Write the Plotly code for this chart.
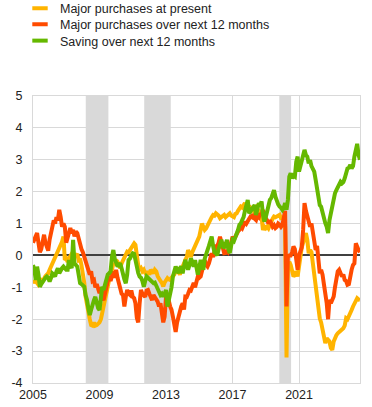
import pandas as pd
import plotly.graph_objects as go

# Monthly values, one row per year (2005 ... 2024)
major_purchases_present = [
    [-0.77, -0.86, -0.8, -0.9, -0.92, -0.85, -0.77, -0.8, -0.7, -0.65, -0.6, -0.56],
    [-0.45, -0.35, -0.3, -0.19, -0.1, 0.0, 0.12, 0.2, 0.3, 0.43, 0.59, -0.14],
    [-0.1, -0.2, -0.1, -0.04, 0.05, 0.0, -0.05, 0.0, 0.05, -0.14, -0.1, -0.3],
    [-0.56, -0.86, -1.29, -1.6, -1.81, -2.0, -2.18, -2.2, -2.1, -2.2, -2.18, -2.15],
    [-2.1, -2.0, -1.8, -1.6, -1.3, -1.08, -0.9, -0.66, -0.55, -0.45, -0.25, -0.3],
    [-0.14, -0.2, -0.3, -0.4, -0.25, -0.14, -0.1, 0.0, 0.12, 0.1, 0.17, 0.25],
    [0.3, 0.38, 0.33, -0.14, -0.3, -0.45, -0.4, -0.5, -0.45, -0.55, -0.6, -0.5],
    [-0.6, -0.45, -0.5, -0.56, -0.45, -0.5, -0.65, -0.77, -0.8, -0.86, -0.97, -0.85],
    [-0.75, -0.71, -0.75, -0.77, -0.7, -0.66, -0.6, -0.5, -0.4, -0.5, -0.6, -0.45],
    [-0.3, -0.25, -0.14, -0.05, 0.17, 0.05, -0.05, 0.1, 0.2, 0.28, 0.4, 0.5],
    [0.59, 0.8, 1.0, 0.9, 0.8, 0.85, 0.95, 1.0, 1.1, 1.2, 1.27, 1.25],
    [1.32, 1.3, 1.25, 1.17, 1.2, 1.25, 1.27, 1.2, 1.25, 1.3, 1.32, 1.25],
    [1.22, 1.2, 1.3, 1.32, 1.4, 1.45, 1.53, 1.5, 1.6, 1.64, 1.5, 1.43],
    [1.45, 1.5, 1.45, 1.4, 1.5, 1.53, 1.45, 1.4, 1.37, 1.2, 0.8, 0.9],
    [0.85, 0.9, 0.85, 0.95, 1.1, 1.15, 1.22, 1.2, 1.22, 1.25, 1.27, 1.17],
    [1.2, 1.2, 0.9, -3.2, -0.4, -0.2, -0.3, -0.5, -0.66, -0.6, -0.5, -0.66],
    [-0.3, 0.0, 0.25, 0.4, 0.59, 0.7, 0.49, 0.07, 0.17, 0.1, -0.25, -0.6],
    [-0.98, -1.3, -1.5, -1.97, -2.1, -2.34, -2.55, -2.75, -2.6, -2.65, -2.7, -2.9],
    [-2.96, -2.7, -2.55, -2.5, -2.44, -2.4, -2.34, -2.3, -2.28, -2.2, -1.97, -2.0],
    [-1.87, -1.8, -1.71, -1.6, -1.5, -1.45, -1.34, -1.38, -1.4],
]

major_purchases_next12 = [
    [0.4, 0.5, 0.6, 0.7, 0.4, 0.1, 0.2, 0.5, 0.65, 0.4, 0.2, 0.15],
    [0.5, 0.75, 0.8, 1.1, 1.0, 1.2, 1.1, 1.43, 1.2, 0.9, 1.0, 0.9],
    [0.4, 0.6, 0.75, 0.86, 0.7, 0.8, 0.6, 0.75, 0.7, 0.5, 0.3, 0.2],
    [0.1, -0.04, -0.1, -0.3, -0.45, -0.6, -0.5, -0.8, -0.77, -1.0, -0.9, -1.1],
    [-1.18, -1.0, -1.33, -1.4, -1.1, -1.0, -0.8, -0.66, -0.8, -0.6, -0.5, -0.7],
    [-0.45, -0.7, -0.9, -1.08, -1.2, -1.24, -1.6, -1.3, -1.08, -1.2, -1.24, -1.1],
    [-1.3, -1.34, -1.5, -1.96, -2.1, -1.5, -1.08, -1.2, -1.24, -1.3, -1.1, -1.08],
    [-1.2, -1.29, -1.4, -1.24, -1.3, -1.34, -1.45, -1.6, -1.5, -1.8, -2.1, -1.92],
    [-1.29, -1.5, -1.4, -1.6, -1.7, -1.92, -2.2, -2.4, -2.1, -1.9, -1.7, -1.6],
    [-1.5, -1.7, -1.29, -1.3, -1.2, -1.08, -1.1, -0.95, -0.86, -1.0, -0.8, -0.66],
    [-0.7, -0.66, -0.5, -0.3, -0.14, -0.3, -0.35, -0.25, -0.1, 0.07, -0.05, 0.2],
    [0.29, 0.3, 0.4, 0.59, 0.4, 0.2, 0.07, 0.08, 0.17, 0.1, 0.17, 0.4],
    [0.59, 0.5, 0.6, 0.7, 0.75, 0.8, 0.9, 0.85, 1.0, 1.06, 1.0, 1.1],
    [1.15, 1.22, 1.2, 1.3, 1.15, 1.11, 1.25, 1.2, 1.33, 1.27, 1.43, 1.2],
    [1.17, 1.1, 1.0, 1.1, 1.0, 0.9, 0.95, 0.86, 0.9, 1.0, 0.96, 0.9],
    [0.96, 1.32, 1.4, -1.6, -0.04, 0.0, 0.0, 0.1, 0.28, 0.2, -0.25, -0.45],
    [0.0, 0.17, 0.25, 0.8, 1.64, 1.4, 1.22, 1.11, 0.9, 1.0, 0.75, 0.6],
    [0.17, 0.3, -0.2, -0.56, -0.45, -0.6, -0.9, -1.18, -1.5, -2.0, -1.39, -1.5],
    [-1.4, -1.29, -1.0, -0.66, -0.5, -0.45, -0.55, -0.66, -0.6, -0.77, -0.8, -0.92],
    [-0.9, -0.6, -0.45, -0.3, -0.25, 0.38, 0.25, 0.17, 0.1],
]

saving_next12 = [
    [-0.3, -0.45, -0.77, -0.35, -0.6, -0.98, -0.9, -0.8, -0.77, -0.7, -0.66, -0.7],
    [-0.82, -0.7, -0.56, -0.6, -0.66, -0.5, -0.4, -0.56, -0.45, -0.4, -0.35, -0.4],
    [-0.45, -0.45, -0.14, -0.3, -0.4, 0.49, -0.25, -0.3, -0.35, -0.6, -0.87, -0.9],
    [-0.95, -0.98, -1.24, -1.39, -1.66, -1.87, -1.7, -1.5, -1.4, -1.3, -1.55, -1.65],
    [-1.71, -1.4, -0.98, -1.08, -0.9, -0.77, -0.6, -0.56, -0.5, -0.04, 0.17, -0.1],
    [-0.2, -0.35, -0.3, -0.25, -0.4, -0.66, -0.75, -0.87, -0.6, -0.14, -0.1, 0.0],
    [0.07, 0.05, -0.2, -0.45, -0.55, -0.66, -0.7, -0.8, -0.98, -0.8, -0.66, -0.7],
    [-0.75, -0.77, -0.8, -0.87, -0.85, -0.95, -1.08, -1.15, -1.24, -1.2, -1.29, -1.2],
    [-1.08, -1.6, -1.39, -1.29, -1.0, -0.66, -0.5, -0.35, -0.45, -0.56, -0.4, -0.35],
    [-0.56, -0.35, -0.14, -0.3, -0.45, -0.3, -0.09, -0.2, -0.35, -0.15, -0.35, -0.6],
    [-0.4, -0.14, -0.3, -0.45, -0.1, 0.0, 0.17, 0.3, 0.49, 0.59, 0.3, 0.1],
    [0.07, 0.0, 0.2, 0.35, 0.49, 0.3, 0.23, 0.35, 0.49, 0.2, 0.07, 0.3],
    [0.49, 0.45, 0.55, 0.64, 0.8, 0.96, 1.0, 1.11, 1.2, 1.4, 1.58, 1.74],
    [1.32, 1.4, 1.45, 1.53, 1.58, 1.27, 1.5, 1.64, 1.58, 1.69, 1.27, 1.06],
    [1.2, 1.43, 1.5, 1.74, 1.8, 1.95, 2.05, 1.84, 1.7, 1.6, 1.53, 1.5],
    [1.43, 1.5, 1.64, 1.43, 1.74, 2.47, 2.58, 2.42, 2.5, 2.47, 2.94, 3.1],
    [2.63, 2.8, 2.94, 3.1, 3.31, 3.15, 3.1, 2.89, 2.99, 2.8, 2.68, 2.63],
    [2.37, 2.1, 1.84, 1.58, 1.53, 1.32, 1.2, 1.01, 0.9, 0.7, 1.11, 1.32],
    [1.6, 1.84, 1.95, 2.05, 2.16, 2.2, 2.31, 2.26, 2.3, 2.42, 2.55, 2.73],
    [2.75, 2.84, 2.73, 2.8, 3.1, 3.4, 3.5, 3.15, 3.0],
]

series_names = [
    "Major purchases at present",
    "Major purchases over next 12 months",
    "Saving over next 12 months",
]
series_colors = ["#FFB400", "#FF4B00", "#65B800"]

tick_years = ["2005", "2009", "2013", "2017", "2021"]
y_ticks = [5, 4, 3, 2, 1, 0, -1, -2, -3, -4]

# shaded periods (start, end)
shaded_periods = [
    ("2008-03-05", "2009-07-15"),
    ("2011-09-10", "2013-04-15"),
    ("2019-10-25", "2020-07-10"),
]


def flatten(rows):
    return [v for row in rows for v in row]


all_series = [flatten(major_purchases_present),
              flatten(major_purchases_next12),
              flatten(saving_next12)]
dates = pd.date_range("2005-01-01", periods=len(all_series[0]), freq="MS")

W, H = 372, 407
M_L, M_R, M_T, M_B = 33, 12, 96, 24
PLOT_H = H - M_T - M_B
PLOT_W = W - M_L - M_R

fig = go.Figure()
for name, vals, col in zip(series_names, all_series, series_colors):
    fig.add_trace(go.Scatter(
        x=dates, y=vals, mode="lines", name=name,
        line=dict(color=col, width=4), showlegend=False,
        hoverinfo="skip"))

# legend entries (short bar symbols), one legend box per row
legend_ids = ["legend", "legend2", "legend3"]
legend_top_px = [-6.5, 9.5, 26]          # top edge of each legend box, px
for name, col, lid in zip(series_names, series_colors, legend_ids):
    fig.add_trace(go.Scatter(
        x=[None], y=[None], mode="markers", name=name, legend=lid,
        marker=dict(symbol="line-ew", size=11, color=col,
                    line=dict(color=col, width=4)),
        showlegend=True))

legend_layout = {}
for lid, top in zip(legend_ids, legend_top_px):
    legend_layout[lid] = dict(
        x=(20 - M_L) / PLOT_W, xref="paper", xanchor="left",
        y=(H - M_B - top) / PLOT_H, yref="paper", yanchor="top",
        orientation="v", bgcolor="rgba(0,0,0,0)",
        font=dict(size=12.5, color="#222222"), itemwidth=30)

shapes = []
for s, e in shaded_periods:
    shapes.append(dict(type="rect", xref="x", yref="paper", x0=s, x1=e,
                       y0=0, y1=1, fillcolor="#D9D9D9",
                       line=dict(width=0), layer="between"))

fig.update_layout(
    width=W, height=H,
    margin=dict(l=M_L, r=M_R, t=M_T, b=M_B, autoexpand=False),
    paper_bgcolor="white", plot_bgcolor="white",
    font=dict(family="Liberation Sans, Arial, sans-serif", size=12.5,
              color="#222222"),
    shapes=shapes,
    showlegend=True,
    **legend_layout,
)
fig.update_xaxes(
    type="date", range=["2005-01-01", "2024-09-01"],
    tickvals=[f"{y}-01-01" for y in tick_years], ticktext=tick_years,
    showgrid=True, gridcolor="#D9D9D9", gridwidth=1,
    showline=True, linecolor="#D9D9D9", mirror=True,
    ticks="", zeroline=False, fixedrange=True, automargin=False)
fig.update_yaxes(
    range=[-4, 5], tickvals=y_ticks, ticktext=[str(v) for v in y_ticks],
    showgrid=True, gridcolor="#D9D9D9", gridwidth=1,
    showline=True, linecolor="#D9D9D9", mirror=True,
    ticks="outside", ticklen=7, tickcolor="rgba(0,0,0,0)",
    zeroline=True, zerolinecolor="#404040", zerolinewidth=2,
    fixedrange=True, automargin=False)

fig.write_html(
    "out.html",
    config={"displayModeBar": False, "staticPlot": True},
    post_script="document.body.style.margin='0';"
                "document.body.style.padding='0';")
